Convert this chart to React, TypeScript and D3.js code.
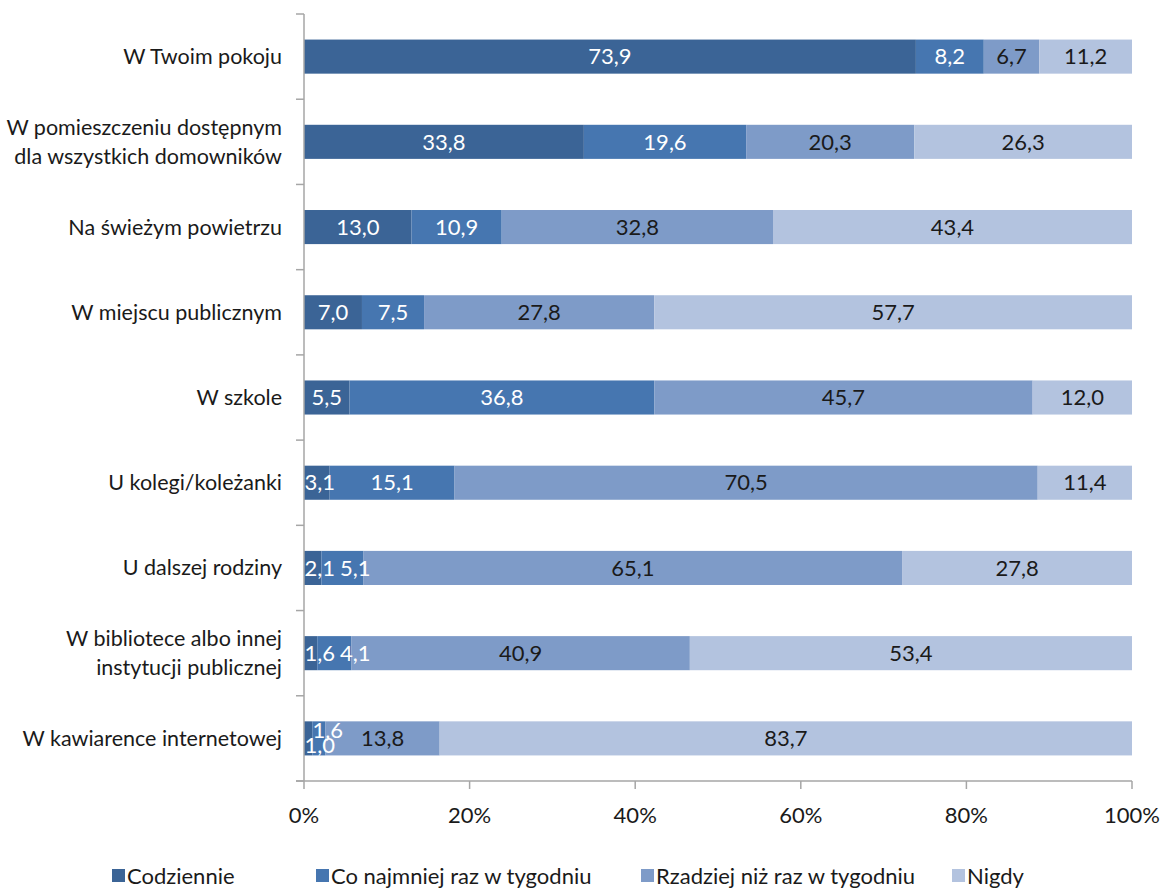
import React from "react";
import * as d3 from "d3";

const categories = [
  "W Twoim pokoju",
  "W pomieszczeniu dostępnym|dla wszystkich domowników",
  "Na świeżym powietrzu",
  "W miejscu publicznym",
  "W szkole",
  "U kolegi/koleżanki",
  "U dalszej rodziny",
  "W bibliotece albo innej|instytucji publicznej",
  "W kawiarence internetowej",
];
const seriesNames = ["Codziennie", "Co najmniej raz w tygodniu", "Rzadziej niż raz w tygodniu", "Nigdy"];
const codziennie = [73.9, 33.8, 13.0, 7.0, 5.5, 3.1, 2.1, 1.6, 1.0];
const coNajmniej = [8.2, 19.6, 10.9, 7.5, 36.8, 15.1, 5.1, 4.1, 1.6];
const rzadziej = [6.7, 20.3, 32.8, 27.8, 45.7, 70.5, 65.1, 40.9, 13.8];
const nigdy = [11.2, 26.3, 43.4, 57.7, 12.0, 11.4, 27.8, 53.4, 83.7];
const xTicks = [0, 20, 40, 60, 80, 100];

const colors = ["#3B6496", "#4676B0", "#7E9BC8", "#B3C3DF"];
const labelColors = ["#FFFFFF", "#FFFFFF", "#1A1A1A", "#1A1A1A"];

export default function App() {
  const W = 1164, H = 888;
  const x0 = 304, x1 = 1132, yTop = 14, yBot = 781;
  const font = "Lato, 'Open Sans', sans-serif";
  const fs = 22;
  const fsCat = 21.5;
  const x = d3.scaleLinear().domain([0, 100]).range([x0, x1]);
  const y = d3.scaleBand().domain(categories).range([yTop, yBot]).paddingInner(0.6).paddingOuter(0.3);
  const bandStep = (yBot - yTop) / categories.length;
  const series = [codziennie, coNajmniej, rzadziej, nigdy];
  const fmt = (v: number) => v.toFixed(1).replace(".", ",");
  const textW = (s: string) => {
    let w = 0;
    for (const ch of s) w += ch === "," ? 0.24 * fs : 0.55 * fs;
    return w;
  };
  const rows = categories.map((c, i) => {
    const vals = series.map((s) => s[i]);
    const total = d3.sum(vals);
    let acc = 0;
    return vals.map((v, k) => {
      const start = (acc / total) * 100;
      acc += v;
      const end = (acc / total) * 100;
      return { k, v, start, end };
    });
  });
  const gray = "#A6A6A6";
  const legendX = [112, 316, 641, 952];

  return (
    <svg width={W} height={H} style={{ display: "block", position: "absolute", left: 0, top: 0 }} fontFamily={font}>
      <rect width={W} height={H} fill="#fff" />
      {rows.map((segs, i) => {
        const c = categories[i];
        const by = y(c)!;
        const bh = y.bandwidth();
        const cy = by + bh / 2;
        const raw = segs.map((s) => x((s.start + s.end) / 2));
        const centers = raw.slice();
        const offsets = segs.map(() => 0);
        for (let k = 0; k < segs.length; k++) {
          const w = textW(fmt(segs[k].v));
          if (centers[k] - w / 2 < x0 + 1) centers[k] = x0 + 1 + w / 2;
          if (k > 0) {
            const wp = textW(fmt(segs[k - 1].v));
            if (raw[k] - raw[k - 1] < 15) {
              offsets[k - 1] = 7;
              offsets[k] = -8;
              centers[k] = Math.max(centers[k], centers[k - 1] + 8);
            } else {
              const minC = centers[k - 1] + wp / 2 + 6 + w / 2;
              if (offsets[k - 1] === 0 && centers[k] < minC) centers[k] = minC;
            }
          }
        }
        return (
          <g key={c}>
            {segs.map((s) => (
              <rect key={s.k} x={x(s.start)} y={by} width={x(s.end) - x(s.start)} height={bh} fill={colors[s.k]} />
            ))}
            {segs.map((s) => (
              <text
                key={s.k}
                x={centers[s.k]}
                y={cy + offsets[s.k]}
                dy="0.35em"
                textAnchor="middle"
                fontSize={fs}
                fill={labelColors[s.k]}
              >
                {fmt(s.v)}
              </text>
            ))}
          </g>
        );
      })}
      {/* y axis */}
      <line x1={x0} x2={x0} y1={yTop} y2={yBot} stroke={gray} strokeWidth={1.5} />
      {d3.range(categories.length + 1).map((k) => (
        <line key={k} x1={x0 - 8} x2={x0} y1={yTop + k * bandStep} y2={yTop + k * bandStep} stroke={gray} strokeWidth={1.5} />
      ))}
      {categories.map((c) => {
        const lines = c.split("|");
        const cy = y(c)! + y.bandwidth() / 2;
        const lh = 29;
        return (
          <text key={c} x={282} textAnchor="end" fontSize={fsCat} fill="#1A1A1A">
            {lines.map((l, j) => (
              <tspan key={j} x={282} y={cy + (j - (lines.length - 1) / 2) * lh} dy="0.35em">
                {l}
              </tspan>
            ))}
          </text>
        );
      })}
      {/* x axis */}
      <line x1={x0 - 8} x2={x1} y1={yBot} y2={yBot} stroke={gray} strokeWidth={1.5} />
      {xTicks.map((t) => (
        <g key={t}>
          <line x1={x(t)} x2={x(t)} y1={yBot} y2={yBot + 8} stroke={gray} strokeWidth={1.5} />
          <text x={x(t)} y={815} dy="0.35em" textAnchor="middle" fontSize={fs} fill="#1A1A1A">
            {t + "%"}
          </text>
        </g>
      ))}
      {/* legend */}
      {seriesNames.map((n, k) => (
        <g key={n}>
          <rect x={legendX[k]} y={869} width={13} height={13} fill={colors[k]} />
          <text x={legendX[k] + 15} y={876} dy="0.35em" fontSize={fs} fill="#1A1A1A">
            {n}
          </text>
        </g>
      ))}
    </svg>
  );
}
